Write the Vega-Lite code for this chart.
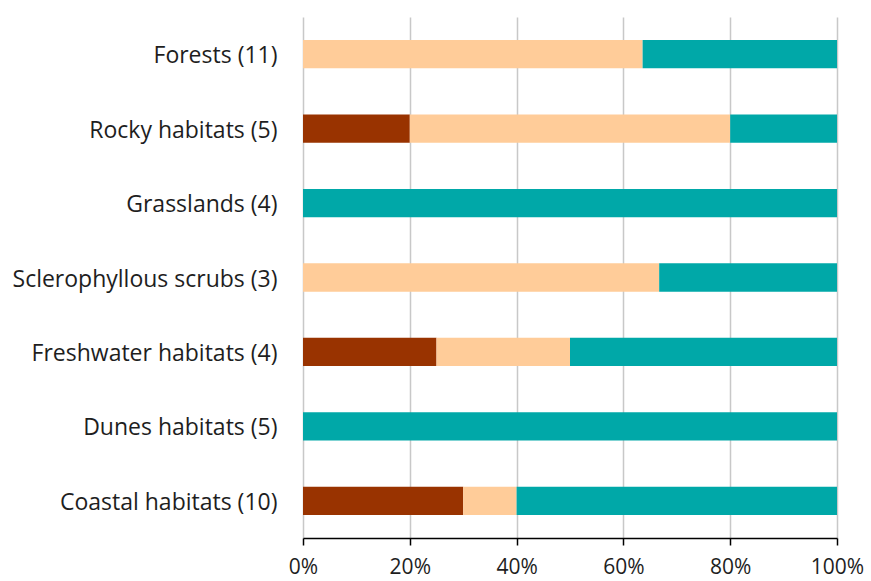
{
  "$schema": "https://vega.github.io/schema/vega-lite/v6.json",
  "width": 534,
  "height": 521,
  "autosize": {"type": "none"},
  "padding": {"left": 303, "top": 17, "right": 34, "bottom": 43},
  "background": "white",
  "data": {
    "values": [
      {"habitat": "Forests (11)", "cls": "A", "ord": 1, "share": 0},
      {"habitat": "Forests (11)", "cls": "B", "ord": 2, "share": 0.636},
      {"habitat": "Forests (11)", "cls": "C", "ord": 3, "share": 0.364},
      {"habitat": "Rocky habitats  (5)", "cls": "A", "ord": 1, "share": 0.2},
      {"habitat": "Rocky habitats  (5)", "cls": "B", "ord": 2, "share": 0.6},
      {"habitat": "Rocky habitats  (5)", "cls": "C", "ord": 3, "share": 0.2},
      {"habitat": "Grasslands  (4)", "cls": "A", "ord": 1, "share": 0},
      {"habitat": "Grasslands  (4)", "cls": "B", "ord": 2, "share": 0},
      {"habitat": "Grasslands  (4)", "cls": "C", "ord": 3, "share": 1},
      {"habitat": "Sclerophyllous scrubs (3)", "cls": "A", "ord": 1, "share": 0},
      {"habitat": "Sclerophyllous scrubs (3)", "cls": "B", "ord": 2, "share": 0.667},
      {"habitat": "Sclerophyllous scrubs (3)", "cls": "C", "ord": 3, "share": 0.333},
      {"habitat": "Freshwater habitats  (4)", "cls": "A", "ord": 1, "share": 0.25},
      {"habitat": "Freshwater habitats  (4)", "cls": "B", "ord": 2, "share": 0.25},
      {"habitat": "Freshwater habitats  (4)", "cls": "C", "ord": 3, "share": 0.5},
      {"habitat": "Dunes habitats  (5)", "cls": "A", "ord": 1, "share": 0},
      {"habitat": "Dunes habitats  (5)", "cls": "B", "ord": 2, "share": 0},
      {"habitat": "Dunes habitats  (5)", "cls": "C", "ord": 3, "share": 1},
      {"habitat": "Coastal habitats  (10)", "cls": "A", "ord": 1, "share": 0.3},
      {"habitat": "Coastal habitats  (10)", "cls": "B", "ord": 2, "share": 0.1},
      {"habitat": "Coastal habitats  (10)", "cls": "C", "ord": 3, "share": 0.6}
    ]
  },
  "mark": {"type": "bar"},
  "encoding": {
    "y": {
      "field": "habitat",
      "type": "nominal",
      "sort": null,
      "scale": {"paddingInner": 0.62, "paddingOuter": 0.31},
      "axis": {
        "title": null,
        "domain": false,
        "ticks": false,
        "labelPadding": 26,
        "labelOffset": 2,
        "labelFont": "Open Sans",
        "labelFontSize": 23,
        "labelColor": "#1e1e1e",
        "labelLimit": 400
      }
    },
    "x": {
      "field": "share",
      "type": "quantitative",
      "stack": "zero",
      "scale": {"domain": [0, 1], "nice": false},
      "axis": {
        "title": null,
        "format": ".0%",
        "values": [0, 0.2, 0.4, 0.6, 0.8, 1],
        "grid": true,
        "gridColor": "#c8c8c8",
        "gridWidth": 1.5,
        "domainColor": "#000000",
        "domainWidth": 1.5,
        "tickColor": "#000000",
        "tickWidth": 1.5,
        "tickSize": 7,
        "labelPadding": 11,
        "labelFont": "Open Sans",
        "labelFontSize": 21,
        "labelColor": "#1e1e1e",
        "labelFlush": false
      }
    },
    "color": {
      "field": "cls",
      "type": "nominal",
      "scale": {"domain": ["A", "B", "C"], "range": ["#993300", "#FFCC99", "#00A8A8"]},
      "legend": null
    },
    "order": {"field": "ord", "type": "quantitative"}
  },
  "config": {"view": {"stroke": null}}
}
